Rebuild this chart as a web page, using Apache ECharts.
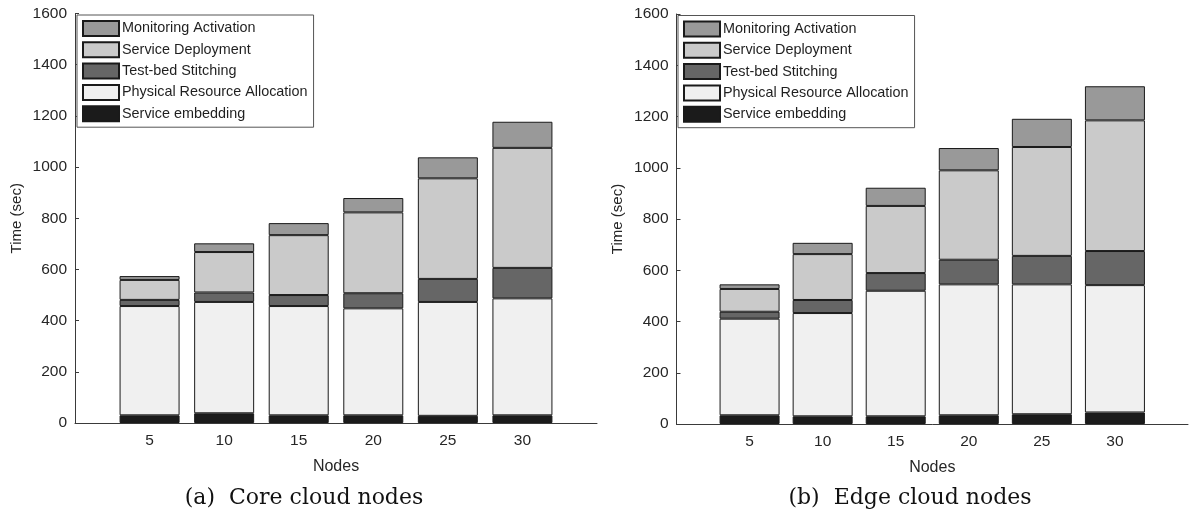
<!DOCTYPE html>
<html>
<head>
<meta charset="utf-8">
<script src="https://cdn.jsdelivr.net/npm/echarts@6/dist/echarts.min.js"></script>
<style>
  html, body { margin: 0; padding: 0; background: #fff; }
  #chart { width: 1191px; height: 523px; }
</style>
</head>
<body>
<div id="chart"></div>
<script>
// Node counts on the x axis
const nodes = ['5', '10', '15', '20', '25', '30'];

// Stage names, listed in the legend from top to bottom
const stageNames = ['Monitoring Activation', 'Service Deployment', 'Test-bed Stitching',
                    'Physical Resource Allocation', 'Service embedding'];

// Per-stage times (sec), core cloud nodes
const coreEmbedding   = [30, 38, 30, 30, 28, 30];
const coreAllocation  = [427, 435, 427, 418, 445, 457];
const coreStitching   = [24, 37, 43, 59, 90, 119];
const coreDeployment  = [78, 158, 234, 316, 393, 469];
const coreMonitoring  = [15, 34, 47, 56, 82, 102];

// Per-stage times (sec), edge cloud nodes
const edgeEmbedding   = [34, 30, 30, 34, 38, 45];
const edgeAllocation  = [377, 403, 490, 511, 507, 497];
const edgeStitching   = [27, 51, 69, 96, 111, 133];
const edgeDeployment  = [89, 179, 262, 349, 425, 510];
const edgeMonitoring  = [18, 44, 71, 87, 110, 133];

// Y axis ticks
const yMin = 0, yMax = 1600, yStep = 200;

const fills = {
  'Service embedding': '#1b1b1b',
  'Physical Resource Allocation': '#f0f0f0',
  'Test-bed Stitching': '#666666',
  'Service Deployment': '#cacaca',
  'Monitoring Activation': '#999999'
};

const FONT = 'Liberation Sans';

// The x axis keeps an empty slot at each end, so the bars sit at 1..6 on a 0..7 span
const slots = [''].concat(nodes, ['']);
const pad = arr => [null].concat(arr, [null]);
const isNodeSlot = i => i >= 1 && i <= nodes.length;

function stackSeries(idx, stack, stages) {
  // bottom-to-top order
  const order = ['Service embedding', 'Physical Resource Allocation', 'Test-bed Stitching',
                 'Service Deployment', 'Monitoring Activation'];
  return order.map(name => ({
    name: name,
    type: 'bar',
    stack: stack,
    xAxisIndex: idx,
    yAxisIndex: idx,
    barWidth: 60,
    data: pad(stages[name]),
    itemStyle: { color: fills[name], borderColor: '#1a1a1a', borderWidth: 1 },
    emphasis: { disabled: true },
    animation: false
  }));
}

const coreStages = {
  'Service embedding': coreEmbedding,
  'Physical Resource Allocation': coreAllocation,
  'Test-bed Stitching': coreStitching,
  'Service Deployment': coreDeployment,
  'Monitoring Activation': coreMonitoring
};
const edgeStages = {
  'Service embedding': edgeEmbedding,
  'Physical Resource Allocation': edgeAllocation,
  'Test-bed Stitching': edgeStitching,
  'Service Deployment': edgeDeployment,
  'Monitoring Activation': edgeMonitoring
};

function xAxis(gridIndex) {
  return {
    type: 'category', gridIndex: gridIndex, data: slots, boundaryGap: false,
    name: 'Nodes', nameLocation: 'middle', nameGap: 36,
    nameTextStyle: { fontFamily: FONT, fontSize: 16, color: '#262626' },
    axisLine: { show: true, lineStyle: { color: '#3a3a3a', width: 1 } },
    axisTick: { show: true, inside: true, length: 4, interval: (i) => isNodeSlot(i),
                lineStyle: { color: '#3a3a3a' } },
    splitLine: { show: false },
    axisLabel: { fontFamily: FONT, fontSize: 15.5, color: '#262626', margin: 10, interval: 0 }
  };
}

function yAxis(gridIndex) {
  return {
    type: 'value', gridIndex: gridIndex, min: yMin, max: yMax, interval: yStep,
    name: 'Time (sec)', nameLocation: 'middle', nameGap: 51,
    nameTextStyle: { fontFamily: FONT, fontSize: 15, color: '#262626' },
    axisLine: { show: true, lineStyle: { color: '#3a3a3a', width: 1 } },
    axisTick: { show: true, inside: true, length: 4, lineStyle: { color: '#3a3a3a' } },
    splitLine: { show: false },
    axisLabel: { fontFamily: FONT, fontSize: 15.5, color: '#262626', margin: 8,
                 formatter: v => String(v) }
  };
}

function legend(left, top) {
  return {
    orient: 'vertical', left: left, top: top,
    data: stageNames,
    icon: 'rect',
    itemWidth: 36, itemHeight: 15, itemGap: 4.3,
    padding: [5, 6, 5, 5],
    borderColor: '#555555', borderWidth: 1, backgroundColor: '#ffffff',
    textStyle: { fontFamily: FONT, fontSize: 14.4, color: '#1f1f1f', lineHeight: 15,
                 padding: [0, 0, 0, -2] },
    selectedMode: false
  };
}

const chart = echarts.init(document.getElementById('chart'), null, { renderer: 'canvas' });
chart.setOption({
  animation: false,
  backgroundColor: '#ffffff',
  grid: [
    { left: 75, top: 13.5, width: 522, height: 409.5 },
    { left: 676.5, top: 14, width: 522, height: 410 }
  ],
  xAxis: [xAxis(0), xAxis(1)],
  yAxis: [yAxis(0), yAxis(1)],
  legend: [legend(77, 15), legend(678, 15.5)],
  series: stackSeries(0, 'core', coreStages).concat(stackSeries(1, 'edge', edgeStages)),
  graphic: [
    { type: 'text', x: 304, y: 498,
      style: { text: '(a)  Core cloud nodes', font: '22px "DejaVu Serif"', fill: '#111',
               textAlign: 'center', textVerticalAlign: 'middle' } },
    { type: 'text', x: 910, y: 498,
      style: { text: '(b)  Edge cloud nodes', font: '22px "DejaVu Serif"', fill: '#111',
               textAlign: 'center', textVerticalAlign: 'middle' } }
  ]
});
</script>
</body>
</html>
